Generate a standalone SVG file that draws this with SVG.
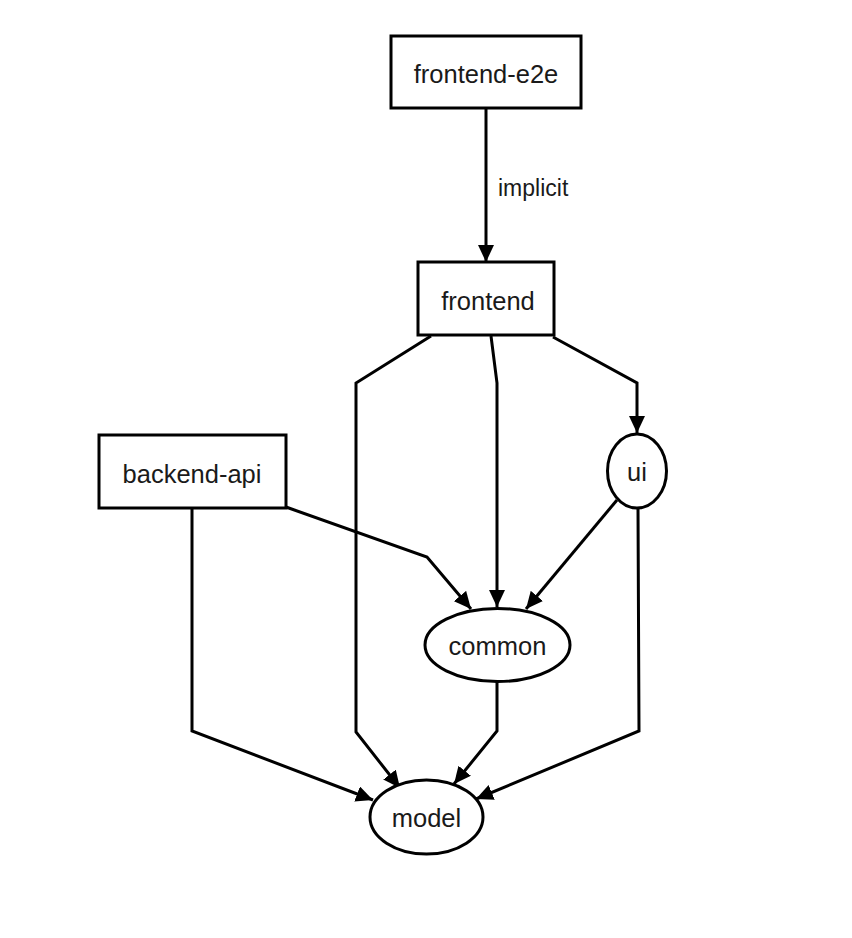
<svg xmlns="http://www.w3.org/2000/svg" width="852" height="938" viewBox="0 0 852 938">
  <style>
    .box { fill: #fff; stroke: #000; stroke-width: 3; }
    .edge { fill: none; stroke: #000; stroke-width: 3; stroke-linejoin: miter; marker-end: url(#arrow); }
    .label { font-family: "Liberation Sans", Arial, sans-serif; font-size: 25.5px; fill: #1a1a1a; text-anchor: middle; }
    .elabel { font-family: "Liberation Sans", Arial, sans-serif; font-size: 23px; fill: #1a1a1a; }
  </style>
  <defs>
    <marker id="arrow" markerUnits="userSpaceOnUse" markerWidth="19" markerHeight="17" refX="17" refY="8" orient="auto">
      <path d="M0,0 L17,8 L0,16 Z" fill="#000"/>
    </marker>
  </defs>
  <rect width="852" height="938" fill="#fff"/>

  <g id="edges">
    <path class="edge" d="M486,108 L486,262"/>
    <path class="edge" d="M431,336 L356,383 L356,732 L400,788"/>
    <path class="edge" d="M491,336 L497,383 L497,607"/>
    <path class="edge" d="M553,337 L637,383 L637,433"/>
    <path class="edge" d="M286,507 L427,557 L471,609"/>
    <path class="edge" d="M617,500 L526,609"/>
    <path class="edge" d="M192,508 L192,731 L373,800"/>
    <path class="edge" d="M497,681 L497,731 L454,784"/>
    <path class="edge" d="M638,508 L639,731 L476,799"/>
    <text class="elabel" x="498" y="196">implicit</text>
  </g>

  <g id="frontend-e2e">
    <rect class="box" x="391" y="36" width="190" height="72"/>
    <text class="label" x="486" y="83">frontend-e2e</text>
  </g>
  <g id="frontend">
    <rect class="box" x="418" y="262" width="136" height="73"/>
    <text class="label" x="488" y="310">frontend</text>
  </g>
  <g id="backend-api">
    <rect class="box" x="99" y="435" width="187" height="73"/>
    <text class="label" x="192" y="483">backend-api</text>
  </g>
  <g id="ui">
    <ellipse class="box" cx="637" cy="471" rx="29.5" ry="37"/>
    <text class="label" x="637" y="481">ui</text>
  </g>
  <g id="common">
    <ellipse class="box" cx="497.5" cy="645" rx="72.5" ry="36.5"/>
    <text class="label" x="497.5" y="655">common</text>
  </g>
  <g id="model">
    <ellipse class="box" cx="426.5" cy="817" rx="56.5" ry="37"/>
    <text class="label" x="426.5" y="827">model</text>
  </g>
</svg>
